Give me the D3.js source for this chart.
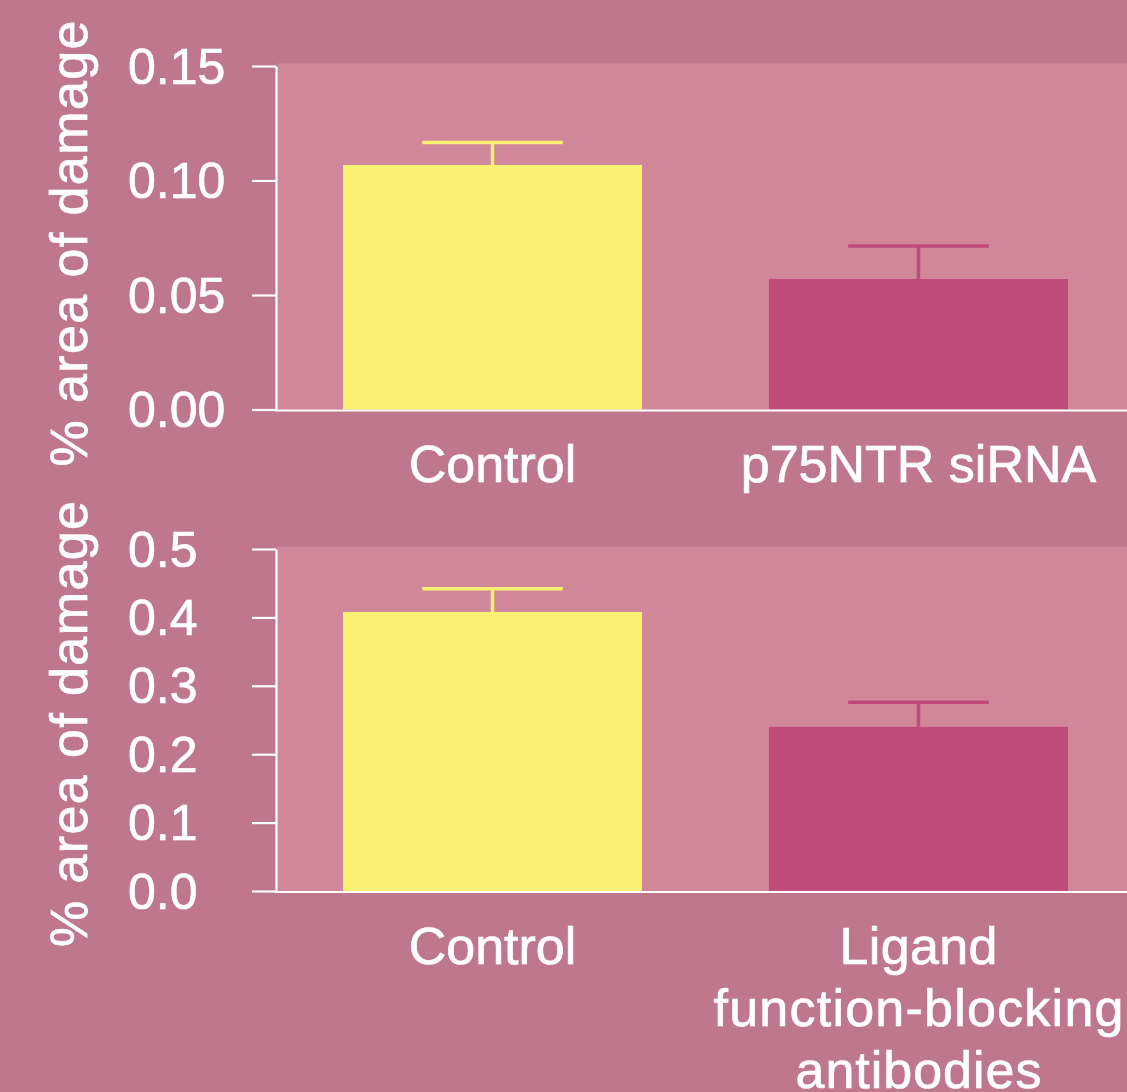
<!DOCTYPE html>
<html>
<head>
<meta charset="utf-8">
<script src="https://cdn.jsdelivr.net/npm/d3@7"></script>
<style>
  html, body { margin: 0; padding: 0; background: #BF778D; }
  svg { display: block; }
  text { font-family: "Liberation Sans", Arial, Helvetica, sans-serif; fill: #ffffff; stroke: #ffffff; stroke-width: 0.7px; }
</style>
</head>
<body>
<svg id="chart" width="1127" height="1092"></svg>
<script>
// ---- data ----
const categoriesTop = ["Control", "p75NTR siRNA"];
const valuesTop = [0.1068, 0.0570];
const errorsTop = [0.0098, 0.0144];
const ticksTop = [0, 0.05, 0.10, 0.15];
const tickLabelsTop = ["0.00", "0.05", "0.10", "0.15"];

const categoriesBottom = ["Control", "Ligand function-blocking antibodies"];
const categoryLinesBottom = [["Control"], ["Ligand", "function-blocking", "antibodies"]];
const valuesBottom = [0.408, 0.240];
const errorsBottom = [0.034, 0.036];
const ticksBottom = [0, 0.1, 0.2, 0.3, 0.4, 0.5];
const tickLabelsBottom = ["0.0", "0.1", "0.2", "0.3", "0.4", "0.5"];

const yTitle = "% area of damage";
const barColors = ["#FAF073", "#BF4B7B"];

// ---- layout ----
const W = 1127, H = 1092;
const bgColor = "#BF778D";
const plotColor = "#D1879A";
const axisX = 276;
const svg = d3.select("#chart");
svg.append("rect").attr("width", W).attr("height", H).attr("fill", bgColor);

function panel(opts) {
  const { cats, lines, vals, errs, ticks, tickLabels, yMax, y0, y1, titleCenter } = opts;
  const g = svg.append("g");
  const x = d3.scaleBand().domain(cats).range([277, 1134])
    .paddingInner(0.298).paddingOuter(0.155);
  const y = d3.scaleLinear().domain([0, yMax]).range([y0, y1]);

  // plot background
  g.append("rect")
    .attr("x", axisX + 1).attr("y", y(yMax) - 2.5)
    .attr("width", W - axisX).attr("height", y(0) - y(yMax) + 2.5)
    .attr("fill", plotColor);

  // bars
  g.selectAll("rect.bar").data(cats).join("rect")
    .attr("class", "bar")
    .attr("x", d => x(d))
    .attr("y", (d, i) => y(vals[i]))
    .attr("width", x.bandwidth())
    .attr("height", (d, i) => y(0) - y(vals[i]))
    .attr("fill", (d, i) => barColors[i]);

  // error bars
  const capW = x.bandwidth() * 0.47;
  cats.forEach((c, i) => {
    const cx = x(c) + x.bandwidth() / 2;
    const yTop = y(vals[i] + errs[i]);
    g.append("line").attr("x1", cx).attr("x2", cx)
      .attr("y1", y(vals[i])).attr("y2", yTop)
      .attr("stroke", barColors[i]).attr("stroke-width", 3.5);
    g.append("line").attr("x1", cx - capW / 2).attr("x2", cx + capW / 2)
      .attr("y1", yTop).attr("y2", yTop)
      .attr("stroke", barColors[i]).attr("stroke-width", 3.5);
  });

  // y axis
  const ay = g.append("g").attr("transform", `translate(${axisX},0)`)
    .call(d3.axisLeft(y).tickValues(ticks)
      .tickFormat((d, i) => tickLabels[i]).tickSize(24).tickSizeOuter(0));
  ay.select(".domain").attr("stroke", "#fff").attr("stroke-width", 2.2);
  ay.selectAll(".tick line").attr("stroke", "#fff").attr("stroke-width", 2.2);
  ay.selectAll(".tick text")
    .attr("x", 128 - axisX).attr("dy", "0.34em")
    .attr("text-anchor", "start")
    .style("font-size", "50px").style("fill", "#fff")
    .style("stroke", "#fff").style("stroke-width", "0.7px")
    .style("font-family", "'Liberation Sans', Arial, sans-serif");

  // x axis line
  g.append("line").attr("x1", axisX - 1).attr("x2", W)
    .attr("y1", y(0) + 1).attr("y2", y(0) + 1)
    .attr("stroke", "#fff").attr("stroke-width", 2.2);

  // category labels
  const lineLens = { "Ligand": 158, "function-blocking": 410, "antibodies": 246 };
  cats.forEach((c, i) => {
    const t = g.append("text")
      .attr("x", x(c) + x.bandwidth() / 2)
      .attr("y", y(0) + 72.5)
      .attr("text-anchor", "middle")
      .style("font-size", "52px");
    lines[i].forEach((ln, j) => {
      const ts = t.append("tspan").attr("x", x(c) + x.bandwidth() / 2)
        .attr("dy", j === 0 ? 0 : 62).text(ln);
      if (lineLens[ln]) ts.attr("textLength", lineLens[ln]).attr("lengthAdjust", "spacing");
    });
  });

  // y title
  g.append("text")
    .attr("transform", `translate(87,${titleCenter}) rotate(-90)`)
    .attr("text-anchor", "middle")
    .attr("textLength", 446).attr("lengthAdjust", "spacing")
    .style("font-size", "52px")
    .text(yTitle);
}

panel({
  cats: categoriesTop, lines: categoriesTop.map(c => [c]),
  vals: valuesTop, errs: errorsTop, ticks: ticksTop, tickLabels: tickLabelsTop,
  yMax: 0.15, y0: 409.5, y1: 66, titleCenter: 243.5
});
panel({
  cats: categoriesBottom, lines: categoryLinesBottom,
  vals: valuesBottom, errs: errorsBottom, ticks: ticksBottom, tickLabels: tickLabelsBottom,
  yMax: 0.5, y0: 891, y1: 549, titleCenter: 724
});
</script>
</body>
</html>
